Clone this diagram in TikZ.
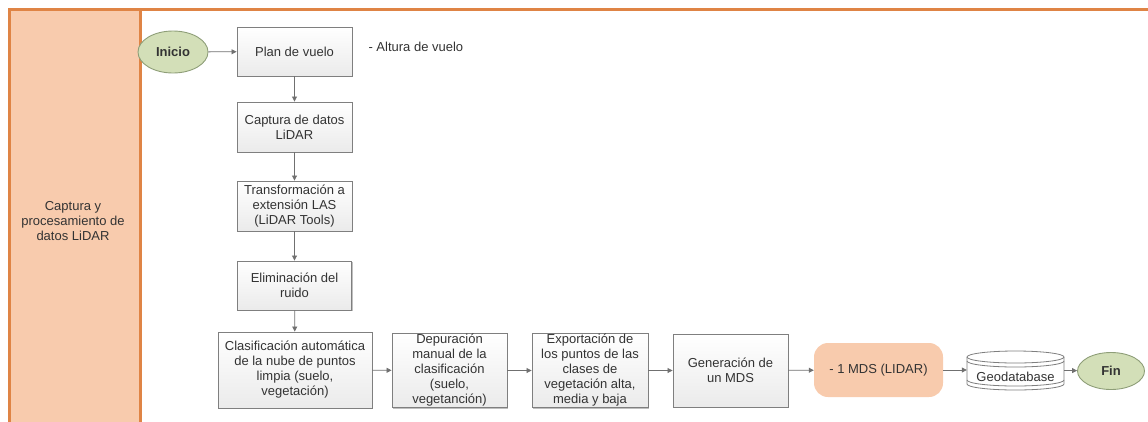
\documentclass[tikz,border=0pt]{standalone}
\usepackage{fontspec}
\setmainfont{Liberation Sans}
\usetikzlibrary{arrows.meta,shapes.geometric,shadows}
\definecolor{lanefill}{HTML}{F8CBAD}
\definecolor{laneedge}{HTML}{DF8445}
\definecolor{termfill}{HTML}{D3DFB8}
\definecolor{termedge}{HTML}{8E9E78}
\definecolor{boxedge}{HTML}{7F7F7F}
\definecolor{arrowc}{HTML}{707070}
\definecolor{txt}{HTML}{333333}
\tikzset{
  procbox/.style={draw=boxedge, line width=0.9pt, top color=white, bottom color=black!8,
    align=center, inner sep=1pt, text=txt, font=\fontsize{13}{15}\selectfont,
    drop shadow={shadow xshift=1.2pt, shadow yshift=-1.2pt, opacity=0.25, fill=black}},
  term/.style={ellipse, draw=termedge, line width=0.9pt, fill=termfill, inner sep=0pt,
    text=txt, font=\fontsize{13}{15}\selectfont\bfseries},
  flow/.style={draw=arrowc, line width=0.8pt, -{Triangle[length=5pt,width=5pt]}},
}
\begin{document}
\begin{tikzpicture}[x=1pt,y=-1pt]
\useasboundingbox (0,0) rectangle (1148,421);
% lane
\fill[lanefill] (9,9) rectangle (140,425);
\draw[laneedge, line width=3pt] (9,425) -- (9,9) -- (1150,9);
\draw[laneedge, line width=3pt] (140,9) -- (140,425);
\node[align=center, font=\fontsize{13}{15}\selectfont, text=txt] (lane) at (73,221)
  {Captura y\\procesamiento de\\datos LiDAR};
% terminals
\node[term, minimum width=70pt, minimum height=42pt] (ini) at (173,52) {Inicio};
\node[term, minimum width=67pt, minimum height=37pt] (fin) at (1111,371) {Fin};
% process boxes
\node[procbox, minimum width=115pt, minimum height=49pt] (plan) at (294.5,51.5) {Plan de vuelo};
\node[align=left, anchor=west, text=txt, font=\fontsize{13}{15}\selectfont] (alt) at (365,47) {- Altura de vuelo};
\node[procbox, minimum width=115pt, minimum height=50pt] (cap) at (294.5,127) {Captura de datos\\LiDAR};
\node[procbox, minimum width=115pt, minimum height=50pt] (tra) at (294.5,206) {Transformación a\\extensión LAS\\(LiDAR Tools)};
\node[procbox, minimum width=114pt, minimum height=49pt] (eli) at (294.5,285.5) {Eliminación del\\ruido};
\node[procbox, minimum width=154pt, minimum height=76pt] (cla) at (295,370) {Clasificación automática\\de la nube de puntos\\limpia (suelo,\\vegetación)};
\node[procbox, minimum width=115pt, minimum height=73pt] (dep) at (449.5,370.5) {Depuración\\manual de la\\clasificación\\(suelo,\\vegetanción)};
\node[procbox, minimum width=116pt, minimum height=73pt] (exp) at (590,370.5) {Exportación de\\los puntos de las\\clases de\\vegetación alta,\\media y baja};
\node[procbox, minimum width=115pt, minimum height=73pt] (gen) at (730.5,370.5) {Generación de\\un MDS};
\node[fill=lanefill, rounded corners=14pt, minimum width=129pt, minimum height=54pt,
  text=txt, font=\fontsize{13}{15}\selectfont] (mds) at (878.5,370) {- 1 MDS (LIDAR)};
% geodatabase
\node[minimum width=97pt, minimum height=38pt, inner sep=0pt] (geo) at (1015.5,370) {};
\begin{scope}[draw=boxedge, line width=0.8pt]
  \filldraw[fill=white] (967,357) -- (967,384) arc[start angle=180, end angle=360, x radius=48.5pt, y radius=6pt]
    -- (1064,357) arc[start angle=0, end angle=180, x radius=48.5pt, y radius=6pt] -- cycle;
  \draw (967,357) arc[start angle=180, end angle=360, x radius=48.5pt, y radius=6pt];
  \draw (967,361) arc[start angle=180, end angle=360, x radius=48.5pt, y radius=6pt];
  \draw (967,380) arc[start angle=180, end angle=360, x radius=48.5pt, y radius=6pt];
\end{scope}
\node[text=txt, font=\fontsize{13}{15}\selectfont, inner sep=0pt] (geot) at (1015.5,377) {Geodatabase};
% connectors
\draw[flow] (ini) -- (plan);
\draw[flow] (plan) -- (cap);
\draw[flow] (cap) -- (tra);
\draw[flow] (tra) -- (eli);
\draw[flow] (eli) -- (cla);
\draw[flow] (cla) -- (dep);
\draw[flow] (dep) -- (exp);
\draw[flow] (exp) -- (gen);
\draw[flow] (gen) -- (mds);
\draw[flow] (mds) -- (geo);
\draw[flow] (geo) -- (fin);
\end{tikzpicture}
\end{document}
